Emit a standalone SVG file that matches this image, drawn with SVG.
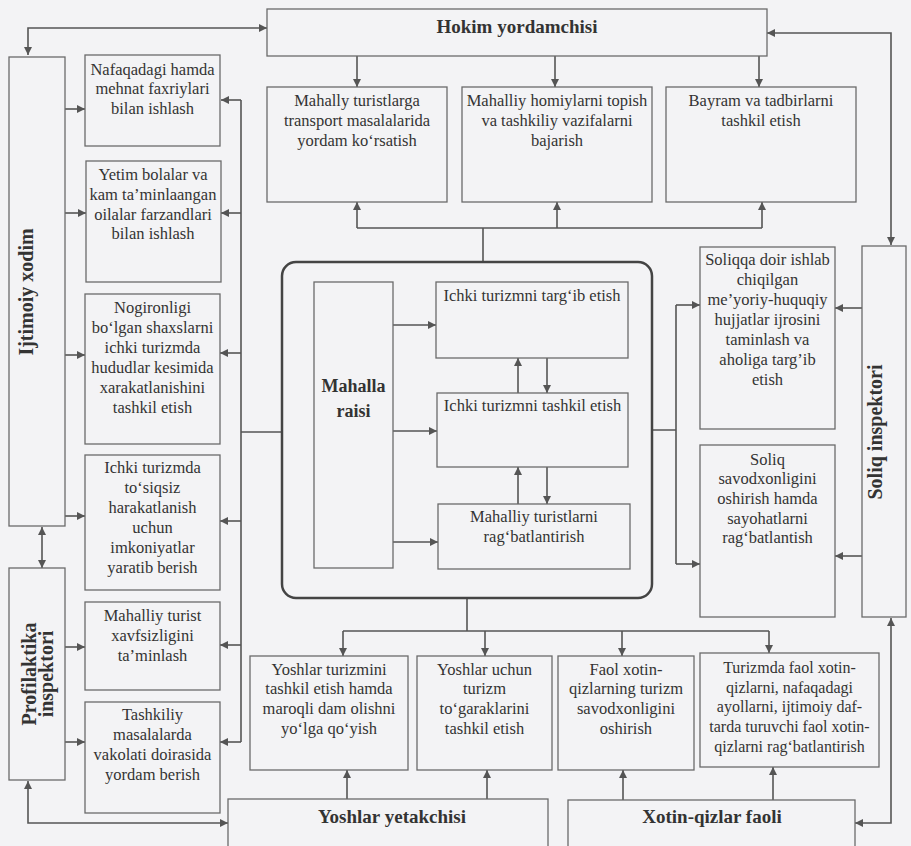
<svg xmlns="http://www.w3.org/2000/svg" width="911" height="846" viewBox="0 0 911 846">
<defs>
<marker id="ah" viewBox="0 0 10 10" refX="10" refY="5" markerWidth="9" markerHeight="8" markerUnits="userSpaceOnUse" orient="auto-start-reverse">
<path d="M0,0 L10,5 L0,10 z" fill="#555"/>
</marker>
<style>
text{font-family:'Liberation Serif','DejaVu Serif',serif}
.bx{fill:none;stroke:#6a6a6a;stroke-width:1.3}
.t{font-size:16.5px;fill:#333;text-anchor:middle}
.b{font-weight:bold;font-size:19px;fill:#333;text-anchor:middle}
.v{font-weight:bold;font-size:20px;fill:#333;text-anchor:middle}
.c{fill:none;stroke:#555;stroke-width:1.6}
.a{fill:none;stroke:#555;stroke-width:1.6;marker-end:url(#ah)}
.d{fill:none;stroke:#555;stroke-width:1.6;marker-start:url(#ah);marker-end:url(#ah)}
</style>
</defs>
<rect x="0" y="0" width="911" height="846" fill="#f3f3f5"/>

<g id="connectors">
<path class="d" d="M28,55 L28,28 L267,28"/>
<path class="d" d="M767,33 L891,33 L891,245"/>
<path class="d" d="M891,618 L891,823 L855,823"/>
<path class="d" d="M28,781 L28,823 L228,823"/>
<path class="d" d="M42,527 L42,568"/>
<path class="a" d="M357,56 L357,87"/>
<path class="a" d="M555,56 L555,87"/>
<path class="a" d="M759,56 L759,87"/>
<path class="a" d="M65,109 L85,109"/>
<path class="a" d="M65,213 L86,213"/>
<path class="a" d="M65,355 L85,355"/>
<path class="a" d="M65,516 L85,516"/>
<path class="a" d="M65,647 L85,647"/>
<path class="a" d="M65,742 L85,742"/>
<path class="c" d="M282,432 L241,432 M241,100 L241,742"/>
<path class="a" d="M241,100 L221,100"/>
<path class="a" d="M241,213 L221,213"/>
<path class="a" d="M241,353 L220,353"/>
<path class="a" d="M241,521 L220,521"/>
<path class="a" d="M241,645 L220,645"/>
<path class="a" d="M241,742 L220,742"/>
<path class="c" d="M483,262 L483,228 M357,228 L762,228"/>
<path class="a" d="M357,228 L357,202"/>
<path class="a" d="M557,228 L557,202"/>
<path class="a" d="M762,228 L762,202"/>
<path class="c" d="M652,430 L676,430 M676,305 L676,564"/>
<path class="a" d="M676,305 L700,305"/>
<path class="a" d="M676,564 L700,564"/>
<path class="a" d="M862,308 L835,308"/>
<path class="a" d="M862,556 L835,556"/>
<path class="c" d="M467,598 L467,631 M343,631 L769,631"/>
<path class="a" d="M343,631 L343,656"/>
<path class="a" d="M485,631 L485,656"/>
<path class="a" d="M622,631 L622,656"/>
<path class="a" d="M769,631 L769,653"/>
<path class="a" d="M347,799 L347,770"/>
<path class="a" d="M487,799 L487,770"/>
<path class="a" d="M623,800 L623,770"/>
<path class="a" d="M773,800 L773,767"/>
<path class="a" d="M393,325 L436,325"/>
<path class="a" d="M393,431 L437,431"/>
<path class="a" d="M393,542 L438,542"/>
<path class="a" d="M518,393 L518,358"/>
<path class="a" d="M547,358 L547,393"/>
<path class="a" d="M518,504 L518,467"/>
<path class="a" d="M547,467 L547,504"/>
</g>

<g id="hokim">
<rect class="bx" x="267" y="9" width="500" height="47"/>
<text class="b" x="517" y="33">Hokim yordamchisi</text>
</g>

<g id="ijtimoiy">
<rect class="bx" x="9" y="57" width="56" height="469"/>
<text class="v" transform="translate(33,292) rotate(-90)" x="0" y="0">Ijtimoiy xodim</text>
</g>

<g id="profilaktika">
<rect class="bx" x="9" y="568" width="56" height="212"/>
<text class="v" transform="translate(36,674) rotate(-90)" x="0" y="0">Profilaktika</text>
<text class="v" transform="translate(53,674) rotate(-90)" x="0" y="0">inspektori</text>
</g>

<g id="soliq">
<rect class="bx" x="862" y="246" width="44" height="371"/>
<text class="v" transform="translate(882,432) rotate(-90)" x="0" y="0">Soliq inspektori</text>
</g>

<g id="nafaqadagi">
<rect class="bx" x="85" y="55" width="135" height="91"/>
<text class="t"><tspan x="152.5" y="75">Nafaqadagi hamda</tspan><tspan x="152.5" y="94">mehnat faxriylari</tspan><tspan x="152.5" y="114">bilan ishlash</tspan></text>
</g>

<g id="yetim">
<rect class="bx" x="86" y="161" width="135" height="121"/>
<text class="t"><tspan x="153" y="180">Yetim bolalar va</tspan><tspan x="153" y="200">kam ta’minlaangan</tspan><tspan x="153" y="220">oilalar farzandlari</tspan><tspan x="153" y="239">bilan ishlash</tspan></text>
</g>

<g id="nogironligi">
<rect class="bx" x="85" y="294" width="135" height="150"/>
<text class="t"><tspan x="152.5" y="313">Nogironligi</tspan><tspan x="152.5" y="333">bo‘lgan shaxslarni</tspan><tspan x="152.5" y="353">ichki turizmda</tspan><tspan x="152.5" y="373">hududlar kesimida</tspan><tspan x="152.5" y="393">xarakatlanishini</tspan><tspan x="152.5" y="413">tashkil etish</tspan></text>
</g>

<g id="tosiqsiz">
<rect class="bx" x="85" y="455" width="135" height="135"/>
<text class="t"><tspan x="152.5" y="473">Ichki turizmda</tspan><tspan x="152.5" y="493">to‘siqsiz</tspan><tspan x="152.5" y="513">harakatlanish</tspan><tspan x="152.5" y="533">uchun</tspan><tspan x="152.5" y="553">imkoniyatlar</tspan><tspan x="152.5" y="573">yaratib berish</tspan></text>
</g>

<g id="xavfsizlik">
<rect class="bx" x="85" y="602" width="135" height="88"/>
<text class="t"><tspan x="152.5" y="621">Mahalliy turist</tspan><tspan x="152.5" y="641">xavfsizligini</tspan><tspan x="152.5" y="661">ta’minlash</tspan></text>
</g>

<g id="tashkiliy">
<rect class="bx" x="85" y="702" width="135" height="111"/>
<text class="t"><tspan x="152.5" y="720">Tashkiliy</tspan><tspan x="152.5" y="740">masalalarda</tspan><tspan x="152.5" y="760">vakolati doirasida</tspan><tspan x="152.5" y="780">yordam berish</tspan></text>
</g>

<g id="transport">
<rect class="bx" x="267" y="87" width="180" height="115"/>
<text class="t"><tspan x="357" y="106">Mahally turistlarga</tspan><tspan x="357" y="126">transport masalalarida</tspan><tspan x="357" y="146">yordam ko‘rsatish</tspan></text>
</g>

<g id="homiylar">
<rect class="bx" x="462" y="87" width="190" height="115"/>
<text class="t"><tspan x="557" y="106">Mahalliy homiylarni topish</tspan><tspan x="557" y="126">va tashkiliy vazifalarni</tspan><tspan x="557" y="146">bajarish</tspan></text>
</g>

<g id="bayram">
<rect class="bx" x="666" y="87" width="190" height="115"/>
<text class="t"><tspan x="761" y="106">Bayram va tadbirlarni</tspan><tspan x="761" y="126">tashkil etish</tspan></text>
</g>

<g id="mahalla">
<rect x="282" y="262" width="370" height="336" rx="14" ry="14" fill="none" stroke="#444" stroke-width="2.5"/>
</g>

<g id="raisi">
<rect class="bx" x="314" y="282" width="79" height="286"/>
<text class="b" style="font-size:18px"><tspan x="353.5" y="392">Mahalla</tspan><tspan x="353.5" y="417">raisi</tspan></text>
</g>

<g id="targib">
<rect class="bx" x="436" y="282" width="192" height="76"/>
<text class="t" x="532" y="301">Ichki turizmni targ‘ib etish</text>
</g>

<g id="tashkil">
<rect class="bx" x="437" y="393" width="191" height="74"/>
<text class="t" x="532.5" y="411">Ichki turizmni tashkil etish</text>
</g>

<g id="ragbat">
<rect class="bx" x="438" y="504" width="192" height="65"/>
<text class="t"><tspan x="534" y="522">Mahalliy turistlarni</tspan><tspan x="534" y="542">rag‘batlantirish</tspan></text>
</g>

<g id="soliqqa">
<rect class="bx" x="700" y="247" width="135" height="182"/>
<text class="t"><tspan x="767.5" y="265">Soliqqa doir ishlab</tspan><tspan x="767.5" y="285">chiqilgan</tspan><tspan x="767.5" y="305">me’yoriy-huquqiy</tspan><tspan x="767.5" y="325">hujjatlar ijrosini</tspan><tspan x="767.5" y="345">taminlash va</tspan><tspan x="767.5" y="365">aholiga targ’ib</tspan><tspan x="767.5" y="385">etish</tspan></text>
</g>

<g id="savodxonlik">
<rect class="bx" x="700" y="445" width="135" height="172"/>
<text class="t"><tspan x="767.5" y="465">Soliq</tspan><tspan x="767.5" y="484">savodxonligini</tspan><tspan x="767.5" y="504">oshirish hamda</tspan><tspan x="767.5" y="524">sayohatlarni</tspan><tspan x="767.5" y="543">rag‘batlantish</tspan></text>
</g>

<g id="yoshlar-turizmi">
<rect class="bx" x="250" y="656" width="158" height="114"/>
<text class="t"><tspan x="329" y="675">Yoshlar turizmini</tspan><tspan x="329" y="694">tashkil etish hamda</tspan><tspan x="329" y="714">maroqli dam olishni</tspan><tspan x="329" y="734">yo‘lga qo‘yish</tspan></text>
</g>

<g id="togaraklar">
<rect class="bx" x="417" y="656" width="135" height="114"/>
<text class="t"><tspan x="484.5" y="675">Yoshlar uchun</tspan><tspan x="484.5" y="694">turizm</tspan><tspan x="484.5" y="714">to‘garaklarini</tspan><tspan x="484.5" y="734">tashkil etish</tspan></text>
</g>

<g id="faol-xotin">
<rect class="bx" x="558" y="656" width="136" height="114"/>
<text class="t"><tspan x="626" y="675">Faol xotin-</tspan><tspan x="626" y="694">qizlarning turizm</tspan><tspan x="626" y="714">savodxonligini</tspan><tspan x="626" y="734">oshirish</tspan></text>
</g>

<g id="turizmda-faol">
<rect class="bx" x="700" y="653" width="179" height="114"/>
<text class="t" style="font-size:16px"><tspan x="789.5" y="673">Turizmda faol xotin-</tspan><tspan x="789.5" y="693">qizlarni, nafaqadagi</tspan><tspan x="789.5" y="712">ayollarni, ijtimoiy daf-</tspan><tspan x="789.5" y="732">tarda turuvchi faol xotin-</tspan><tspan x="789.5" y="752">qizlarni rag‘batlantirish</tspan></text>
</g>

<g id="yetakchi">
<rect class="bx" x="228" y="799" width="320" height="60"/>
<text class="b" x="392" y="823">Yoshlar yetakchisi</text>
</g>

<g id="xotin-qizlar">
<rect class="bx" x="568" y="800" width="287" height="60"/>
<text class="b" x="712" y="823">Xotin-qizlar faoli</text>
</g>
</svg>
